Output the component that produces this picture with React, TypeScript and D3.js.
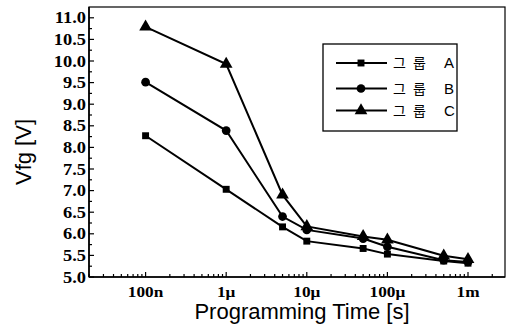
import React from "react";
import * as d3 from "d3";

const times = [1e-7, 1e-6, 5e-6, 1e-5, 5e-5, 1e-4, 5e-4, 1e-3];
const seriesA = [8.27, 7.03, 6.16, 5.83, 5.66, 5.53, 5.37, 5.32];
const seriesB = [9.51, 8.39, 6.4, 6.09, 5.89, 5.7, 5.39, 5.35];
const seriesC = [10.79, 9.93, 6.9, 6.17, 5.94, 5.86, 5.49, 5.41];
const seriesWord = ["그", "룹"];
const seriesLetters = ["A", "B", "C"];
const xTickValues = [1e-7, 1e-6, 1e-5, 1e-4, 1e-3];
const xTickLabels = ["100n", "1μ", "10μ", "100μ", "1m"];
const yTickValues = [5.0, 5.5, 6.0, 6.5, 7.0, 7.5, 8.0, 8.5, 9.0, 9.5, 10.0, 10.5, 11.0];

const W = 512, H = 330;
const L = 89, R = 505, T = 7, B = 277;

export default function App() {
  const x = d3.scaleLog().domain([Math.pow(10, -7.702), Math.pow(10, -2.541)]).range([L, R]);
  const y = d3.scaleLinear().domain([5, 11.25]).range([B, T]);
  const series = [seriesA, seriesB, seriesC];
  const shapes = [d3.symbolSquare, d3.symbolCircle, d3.symbolTriangle];
  const sizes = [48, 60, 70];
  const line = d3.line<number>().x((_, i) => x(times[i])).y((v) => y(v));

  const minorX: number[] = [];
  for (let e = -8; e <= -3; e++) {
    for (let k = 1; k <= 9; k++) {
      const v = k * Math.pow(10, e);
      if (v >= x.domain()[0] && v <= x.domain()[1]) minorX.push(v);
    }
  }
  const minorY: number[] = [];
  for (let v = 5; v <= 11.2; v += 0.25) minorY.push(v);

  const tickFont = "'Liberation Serif', 'Times New Roman', serif";
  const sans = "'Liberation Sans', Arial, sans-serif";
  const kr = "'Noto Sans CJK KR', sans-serif";

  return (
    <svg width={W} height={H} style={{ position: "absolute", left: 0, top: 0, background: "#fff" }}>
      <rect x={0} y={0} width={W} height={H} fill="#fff" />
      {/* frame */}
      <rect x={L} y={T} width={R - L} height={B - T} fill="none" stroke="#000" strokeWidth={1.2} />
      <line x1={L} y1={B} x2={R} y2={B} stroke="#000" strokeWidth={1.6} />
      <line x1={L} y1={T} x2={L} y2={B} stroke="#000" strokeWidth={1.6} />
      {/* x ticks */}
      {minorX.map((v, i) => {
        const major = Math.abs(Math.log10(v) - Math.round(Math.log10(v))) < 1e-6;
        return <line key={"mx" + i} x1={x(v)} x2={x(v)} y1={B} y2={B - (major ? 5 : 3)} stroke="#000" strokeWidth={1.2} />;
      })}
      {xTickValues.map((v, i) => (
        <g key={"xl" + i} transform={`translate(${x(v)},297) scale(1.15,1)`}>
          <text textAnchor="middle" fontFamily={tickFont} fontWeight="bold" fontSize={15} fill="#000">
            {xTickLabels[i]}
          </text>
        </g>
      ))}
      {/* y ticks */}
      {minorY.map((v, i) => {
        const major = Math.abs(v * 2 - Math.round(v * 2)) < 1e-6;
        return <line key={"my" + i} x1={L} x2={L + (major ? 5 : 3)} y1={y(v)} y2={y(v)} stroke="#000" strokeWidth={1.2} />;
      })}
      {yTickValues.map((v, i) => (
        <g key={"yl" + i} transform={`translate(86,${y(v) + 5.5}) scale(1.15,1)`}>
          <text textAnchor="end" fontFamily={tickFont} fontWeight="bold" fontSize={16} fill="#000">
            {v.toFixed(1)}
          </text>
        </g>
      ))}
      {/* axis titles */}
      <text x={302} y={319} textAnchor="middle" fontFamily={sans} fontSize={22} fill="#000">
        Programming Time [s]
      </text>
      <text transform={`translate(31,152) rotate(-90)`} textAnchor="middle" fontFamily={sans} fontSize={22} fill="#000">
        Vfg [V]
      </text>
      {/* series */}
      {series.map((s, si) => (
        <g key={"s" + si}>
          <path d={line(s) || ""} fill="none" stroke="#000" strokeWidth={2} />
          {s.map((v, i) => (
            <path
              key={i}
              transform={`translate(${x(times[i])},${y(v)})`}
              d={d3.symbol().type(shapes[si]).size(sizes[si])() || ""}
              fill="#000"
            />
          ))}
        </g>
      ))}
      {/* legend */}
      <rect x={323} y={44} width={134} height={87} fill="#fff" stroke="#000" strokeWidth={1.3} />
      {seriesLetters.map((letter, i) => {
        const ly = [63, 88.5, 110.5][i];
        return (
          <g key={"lg" + i}>
            <line x1={336} x2={387} y1={ly} y2={ly} stroke="#000" strokeWidth={2} />
            <path transform={`translate(361,${ly})`} d={d3.symbol().type(shapes[i]).size(sizes[i])() || ""} fill="#000" />
            <text y={ly + 5} fontFamily={kr} fontSize={14} fill="#000">
              <tspan x={393}>{seriesWord[0]}</tspan>
              <tspan x={413}>{seriesWord[1]}</tspan>
              <tspan x={444} fontFamily={sans} fontSize={15}>{letter}</tspan>
            </text>
          </g>
        );
      })}
    </svg>
  );
}
